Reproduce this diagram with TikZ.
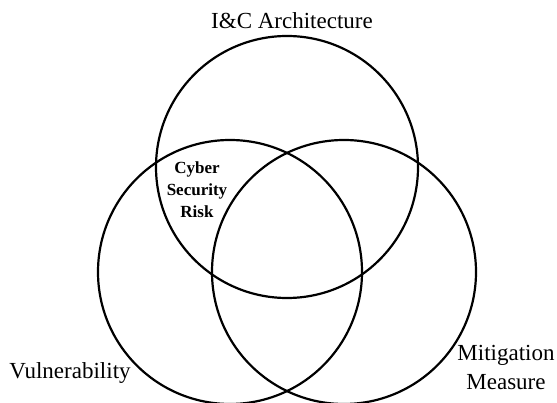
\documentclass[tikz,border=0pt]{standalone}
\usepackage{fontspec}
\setmainfont{Liberation Serif}
\begin{document}
\begin{tikzpicture}[x=1pt,y=-1pt,
  ring/.style={draw=black,line width=2.2pt,circle,minimum size=264pt,inner sep=0pt},
  lbl/.style={font=\fontsize{23}{29}\selectfont,align=center,inner sep=0pt},
  core/.style={font=\fontsize{17}{22}\selectfont\bfseries,align=center,inner sep=0pt}]
\useasboundingbox (0,0) rectangle (557,403);
\node[ring,minimum size=262pt] (ic) at (287,167) {};
\node[ring] (vu) at (230,272) {};
\node[ring] (mm) at (344,272) {};
\node[lbl] (ict) at (292,21) {I\&C Architecture};
\node[lbl] (vut) at (70,373) {Vulnerability};
\node[lbl] (mmt) at (506,367) {Mitigation\\Measure};
\node[core] (csr) at (197,190) {Cyber\\Security\\Risk};
\end{tikzpicture}
\end{document}
